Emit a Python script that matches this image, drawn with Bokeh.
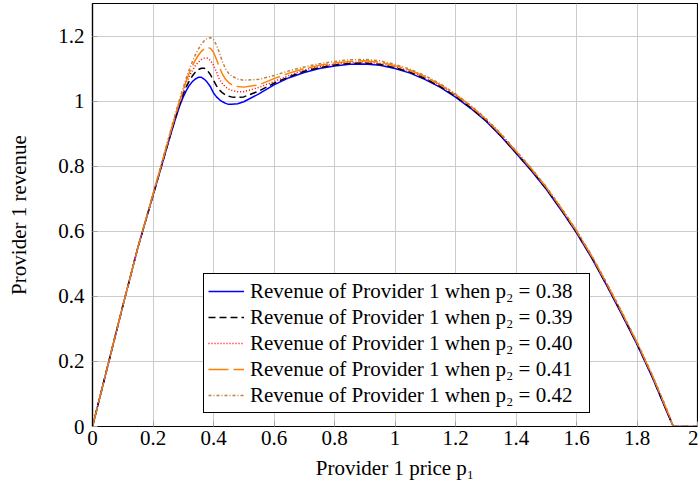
from bokeh.plotting import figure
from bokeh.models import FixedTicker, Legend, LegendItem, Range1d, NumeralTickFormatter
from bokeh.core.properties import value
from bokeh.embed import file_html
from bokeh.resources import INLINE

# ---- data ----
price = [0, 0.05, 0.10, 0.15, 0.20,
         0.25, 0.26, 0.27, 0.28, 0.29, 0.30, 0.31, 0.32, 0.33, 0.34, 0.35, 0.36, 0.37, 0.38,
         0.39, 0.40, 0.41, 0.42, 0.43, 0.44, 0.45, 0.46, 0.48, 0.50,
         0.55, 0.60, 0.65, 0.70, 0.75, 0.80, 0.85, 0.90, 0.95,
         1.00, 1.05, 1.10, 1.15, 1.20, 1.25, 1.30, 1.35, 1.40, 1.45, 1.50, 1.55, 1.60, 1.65,
         1.70, 1.75, 1.80, 1.85, 1.90, 1.92, 1.96, 2.00]

rev_038 = [0, 0.185, 0.37, 0.55, 0.71,
           0.870, 0.902, 0.933, 0.962, 0.990, 1.013, 1.032, 1.048, 1.060, 1.068, 1.073, 1.073, 1.067, 1.057,
           1.044, 1.025, 1.013, 1.004, 0.998, 0.993, 0.990, 0.990, 0.992, 0.998,
           1.022, 1.050, 1.072, 1.088, 1.100, 1.108, 1.113, 1.114, 1.110,
           1.100, 1.086, 1.066, 1.042, 1.012, 0.978, 0.939, 0.892, 0.840, 0.787, 0.729, 0.664, 0.595, 0.518,
           0.433, 0.344, 0.252, 0.152, 0.042, 0.0, 0.0, 0.0]

rev_039 = [0, 0.185, 0.37, 0.55, 0.71,
           0.872, 0.905, 0.937, 0.967, 0.996, 1.022, 1.044, 1.062, 1.077, 1.089, 1.097, 1.101, 1.101, 1.094,
           1.081, 1.064, 1.047, 1.034, 1.025, 1.019, 1.015, 1.013, 1.011, 1.013,
           1.031, 1.055, 1.075, 1.092, 1.103, 1.111, 1.116, 1.117, 1.113,
           1.103, 1.089, 1.069, 1.045, 1.015, 0.980, 0.941, 0.894, 0.842, 0.789, 0.731, 0.666, 0.597, 0.520,
           0.435, 0.346, 0.254, 0.154, 0.044, 0.0, 0.0, 0.0]

rev_040 = [0, 0.185, 0.37, 0.55, 0.712,
           0.875, 0.908, 0.940, 0.971, 1.001, 1.029, 1.054, 1.076, 1.094, 1.109, 1.120, 1.128, 1.132, 1.132,
           1.125, 1.110, 1.089, 1.066, 1.053, 1.043, 1.037, 1.033, 1.029, 1.029,
           1.042, 1.060, 1.079, 1.096, 1.106, 1.114, 1.119, 1.120, 1.116,
           1.106, 1.092, 1.072, 1.048, 1.018, 0.983, 0.943, 0.896, 0.844, 0.791, 0.733, 0.668, 0.599, 0.522,
           0.437, 0.348, 0.256, 0.156, 0.046, 0.0, 0.0, 0.0]

rev_041 = [0, 0.185, 0.37, 0.55, 0.713,
           0.878, 0.911, 0.944, 0.975, 1.006, 1.035, 1.062, 1.087, 1.108, 1.126, 1.141, 1.153, 1.161, 1.165,
           1.162, 1.150, 1.128, 1.103, 1.082, 1.067, 1.057, 1.051, 1.045, 1.043,
           1.050, 1.069, 1.086, 1.100, 1.110, 1.117, 1.122, 1.124, 1.120,
           1.109, 1.095, 1.075, 1.050, 1.020, 0.985, 0.945, 0.898, 0.846, 0.793, 0.735, 0.670, 0.601, 0.524,
           0.439, 0.350, 0.258, 0.158, 0.048, 0.0, 0.0, 0.0]

rev_042 = [0, 0.185, 0.37, 0.55, 0.715,
           0.882, 0.916, 0.949, 0.981, 1.012, 1.042, 1.070, 1.097, 1.121, 1.142, 1.160, 1.175, 1.186, 1.193,
           1.195, 1.189, 1.172, 1.147, 1.120, 1.099, 1.085, 1.077, 1.068, 1.064,
           1.067, 1.079, 1.093, 1.105, 1.115, 1.122, 1.127, 1.128, 1.124,
           1.113, 1.098, 1.078, 1.053, 1.022, 0.987, 0.947, 0.900, 0.848, 0.795, 0.737, 0.672, 0.603, 0.526,
           0.441, 0.352, 0.260, 0.160, 0.050, 0.0, 0.0, 0.0]

series_labels = ["Revenue of Provider 1 when p₂ = 0.38",
                 "Revenue of Provider 1 when p₂ = 0.39",
                 "Revenue of Provider 1 when p₂ = 0.40",
                 "Revenue of Provider 1 when p₂ = 0.41",
                 "Revenue of Provider 1 when p₂ = 0.42"]

x_ticks = [0, 0.2, 0.4, 0.6, 0.8, 1.0, 1.2, 1.4, 1.6, 1.8, 2.0]
y_ticks = [0, 0.2, 0.4, 0.6, 0.8, 1.0, 1.2]
tick_label_format = "0.[0]"   # gives 0, 0.2, ..., 1, 1.2, ..., 2

# ---- styles ----
FONT = "Liberation Serif"
FS = "21px"
styles = [
    dict(line_color="#0000ff", line_dash="solid"),
    dict(line_color="#000000", line_dash="7 4"),
    dict(line_color="#ff0000", line_dash="1 2"),
    dict(line_color="#ff8000", line_dash="20 5"),
    dict(line_color="#bf8040", line_dash="3 2 1 2"),
]

p = figure(width=698, height=491, output_backend="svg", toolbar_location=None,
           x_range=Range1d(0, 2), y_range=Range1d(0, 1.3),
           min_border_left=92, min_border_right=1, min_border_top=3, min_border_bottom=65,
           x_axis_label="Provider 1 price p₁", y_axis_label="Provider 1 revenue")

p.background_fill_color = "white"
p.border_fill_color = "white"
p.outline_line_color = "black"
p.outline_line_width = 1.2

# grid
for g, t in ((p.xgrid, x_ticks), (p.ygrid, y_ticks)):
    g.ticker = FixedTicker(ticks=t)
    g.grid_line_color = "#cccccc"
    g.grid_line_width = 1

# axes
for ax, t in ((p.xaxis[0], x_ticks), (p.yaxis[0], y_ticks)):
    ax.ticker = FixedTicker(ticks=t)
    ax.formatter = NumeralTickFormatter(format=tick_label_format)
    ax.major_tick_in = 5
    ax.major_tick_out = 0
    ax.minor_tick_line_color = None
    ax.major_tick_line_color = "#a0a0a0"
    ax.axis_line_color = "black"
    ax.axis_line_width = 1.2
    ax.major_label_text_font = FONT
    ax.major_label_text_font_size = FS
    ax.major_label_text_color = "black"
    ax.axis_label_text_font = FONT
    ax.axis_label_text_font_size = FS
    ax.axis_label_text_font_style = "normal"
    ax.axis_label_text_color = "black"

p.xaxis[0].major_label_standoff = 4
p.xaxis[0].axis_label_standoff = 8
p.yaxis[0].major_label_standoff = 8
p.yaxis[0].axis_label_standoff = 24

renderers = []
for ys, st in zip([rev_038, rev_039, rev_040, rev_041, rev_042], styles):
    r = p.line(price, ys, line_width=1.5, **st)
    renderers.append(r)

items = [LegendItem(label=value(lbl), renderers=[r]) for lbl, r in zip(series_labels, renderers)]
legend = Legend(items=items, location=(111, 13), margin=0, padding=4, spacing=0,
                glyph_width=36, glyph_height=26, label_height=26, label_width=335,
                label_standoff=6, label_text_font=FONT, label_text_font_size=FS,
                label_text_color="black",
                border_line_color="black", border_line_width=1, border_line_alpha=1,
                background_fill_color="white", background_fill_alpha=1)
p.add_layout(legend)

open("out.html", "w").write(file_html(p, INLINE))
